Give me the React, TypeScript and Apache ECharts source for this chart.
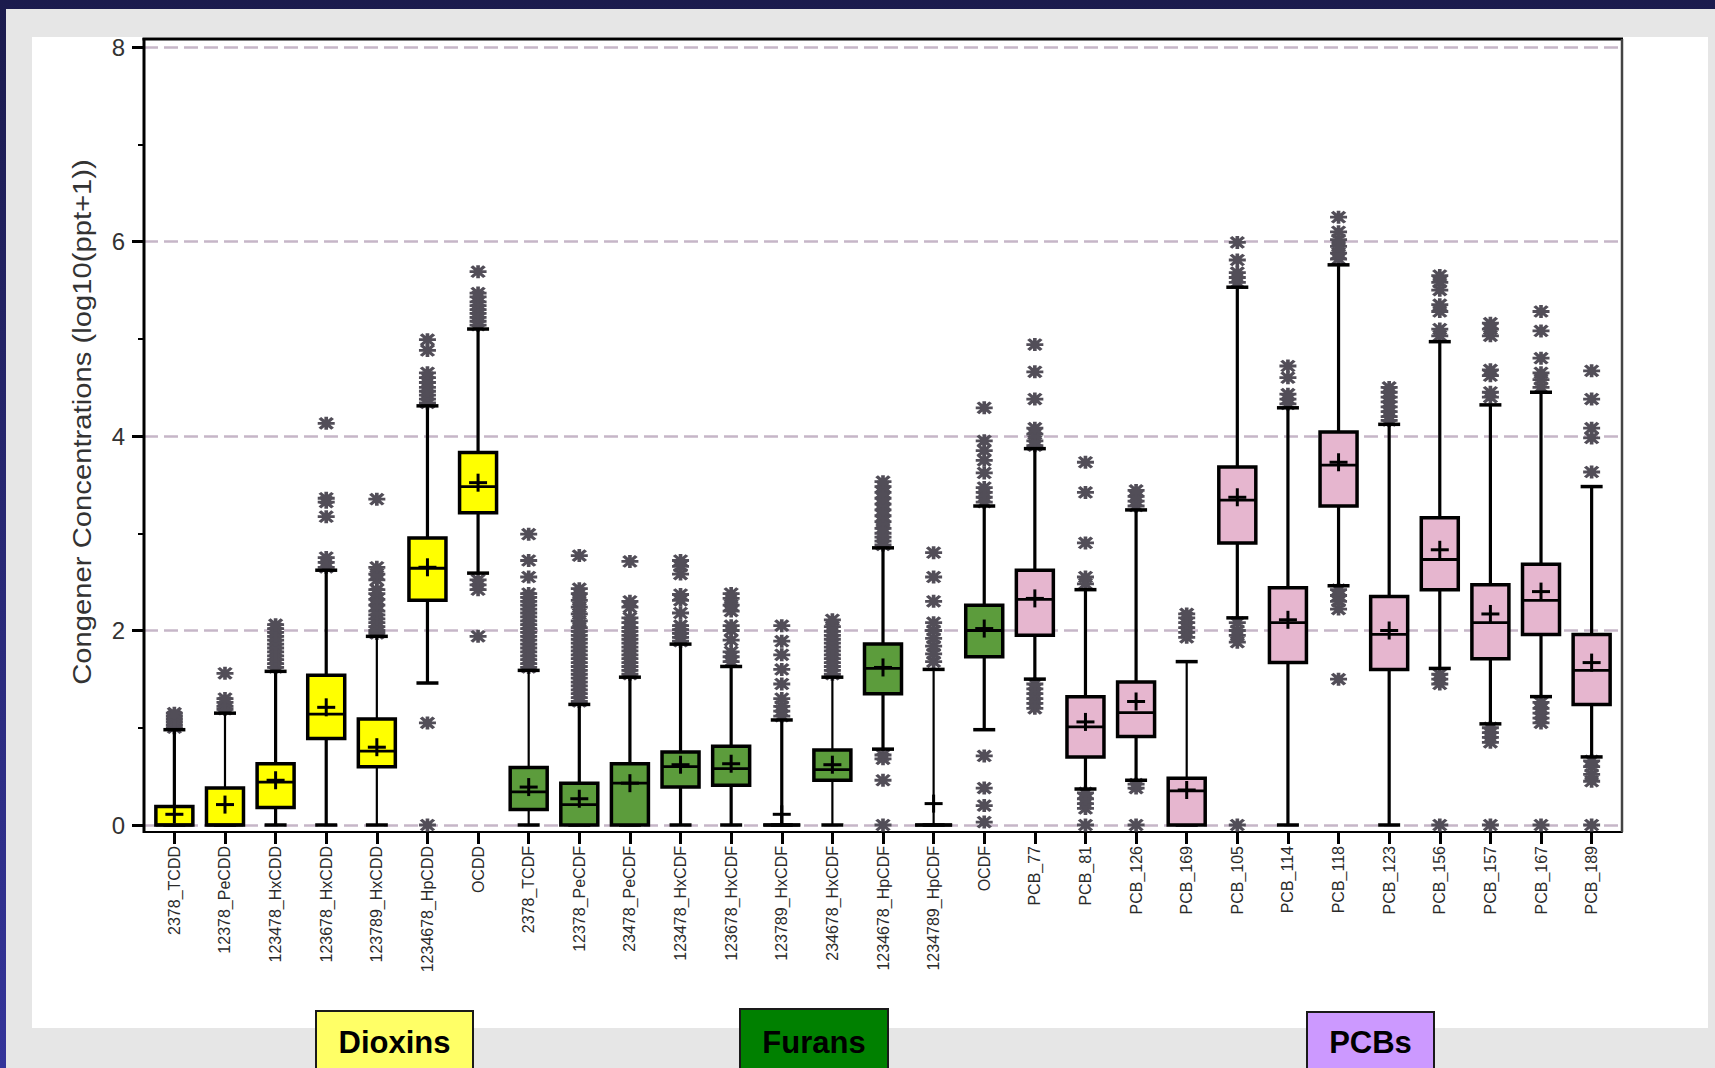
import React, { useEffect, useRef } from 'react';
import * as echarts from 'echarts';

const categories = [
  '2378_TCDD', '12378_PeCDD', '123478_HxCDD', '123678_HxCDD', '123789_HxCDD', '1234678_HpCDD', 'OCDD',
  '2378_TCDF', '12378_PeCDF', '23478_PeCDF', '123478_HxCDF', '123678_HxCDF', '123789_HxCDF', '234678_HxCDF',
  '1234678_HpCDF', '1234789_HpCDF', 'OCDF',
  'PCB_77', 'PCB_81', 'PCB_126', 'PCB_169', 'PCB_105', 'PCB_114', 'PCB_118', 'PCB_123', 'PCB_156', 'PCB_157',
  'PCB_167', 'PCB_189',
];

// 0 = Dioxins, 1 = Furans, 2 = PCBs
const groupIndex = [0, 0, 0, 0, 0, 0, 0, 1, 1, 1, 1, 1, 1, 1, 1, 1, 1, 2, 2, 2, 2, 2, 2, 2, 2, 2, 2, 2, 2];
const groupNames = ['Dioxins', 'Furans', 'PCBs'];

const minValues = [0, 0, 0, 0, 0, 1.46, 2.59, 0, 0, 0, 0, 0, 0, 0, 0.78, 0, 0.98, 1.5, 0.37, 0.46, 0, 2.13, 0, 2.46, 0, 1.61, 1.04, 1.32, 0.7];
const q1Values = [0, 0, 0.18, 0.89, 0.6, 2.31, 3.21, 0.16, 0, 0, 0.39, 0.41, 0, 0.46, 1.35, 0, 1.73, 1.95, 0.7, 0.91, 0, 2.9, 1.67, 3.28, 1.6, 2.42, 1.71, 1.96, 1.24];
const medianValues = [0, 0, 0.44, 1.14, 0.76, 2.64, 3.48, 0.34, 0.21, 0.43, 0.6, 0.58, 0, 0.57, 1.61, 0, 2.0, 2.32, 1.01, 1.155, 0.35, 3.34, 2.08, 3.7, 1.96, 2.73, 2.08, 2.31, 1.59];
const q3Values = [0.19, 0.38, 0.63, 1.54, 1.09, 2.95, 3.83, 0.59, 0.43, 0.63, 0.75, 0.81, 0, 0.77, 1.86, 0, 2.26, 2.62, 1.32, 1.47, 0.48, 3.68, 2.44, 4.04, 2.35, 3.16, 2.47, 2.68, 1.96];
const maxValues = [0.98, 1.15, 1.58, 2.62, 1.94, 4.31, 5.1, 1.59, 1.24, 1.52, 1.86, 1.63, 1.08, 1.52, 2.85, 1.6, 3.28, 3.87, 2.42, 3.24, 1.68, 5.53, 4.29, 5.76, 4.12, 4.97, 4.32, 4.45, 3.48];
const meanValues = [0.11, 0.21, 0.46, 1.21, 0.8, 2.65, 3.52, 0.39, 0.27, 0.43, 0.62, 0.63, 0.11, 0.62, 1.62, 0.22, 2.02, 2.33, 1.06, 1.27, 0.36, 3.37, 2.11, 3.73, 2.0, 2.83, 2.17, 2.4, 1.67];

const outlierValues: number[][] = [
  [1.0, 1.03, 1.06, 1.09, 1.12, 1.15],
  [1.19, 1.22, 1.26, 1.3, 1.56],
  [1.62, 1.66, 1.7, 1.74, 1.78, 1.82, 1.86, 1.9, 1.94, 1.98, 2.02, 2.06],
  [2.65, 2.7, 2.75, 3.17, 3.32, 3.36, 4.13],
  [1.97, 2.0, 2.04, 2.08, 2.12, 2.16, 2.2, 2.26, 2.32, 2.38, 2.42, 2.52, 2.58, 2.65, 3.35],
  [0, 1.05, 4.34, 4.38, 4.42, 4.46, 4.5, 4.55, 4.6, 4.65, 4.88, 4.99],
  [1.94, 2.42, 2.47, 2.52, 5.14, 5.18, 5.22, 5.26, 5.3, 5.34, 5.38, 5.43, 5.47, 5.69],
  [1.62, 1.66, 1.7, 1.74, 1.78, 1.82, 1.86, 1.9, 1.94, 1.98, 2.02, 2.06, 2.1, 2.14, 2.18, 2.22, 2.26, 2.3, 2.34, 2.38, 2.55, 2.72, 2.99],
  [1.27, 1.31, 1.35, 1.39, 1.43, 1.47, 1.51, 1.55, 1.59, 1.63, 1.67, 1.71, 1.75, 1.79, 1.83, 1.87, 1.91, 1.95, 1.99, 2.03, 2.1, 2.17, 2.24, 2.31, 2.38, 2.43, 2.77],
  [1.55, 1.59, 1.63, 1.67, 1.71, 1.75, 1.79, 1.83, 1.87, 1.91, 1.95, 1.99, 2.03, 2.08, 2.13, 2.24, 2.3, 2.71],
  [1.89, 1.93, 1.97, 2.01, 2.05, 2.18, 2.31, 2.37, 2.58, 2.66, 2.72],
  [1.68, 1.73, 1.78, 1.9, 2.0, 2.05, 2.2, 2.26, 2.33, 2.38],
  [1.12, 1.17, 1.22, 1.3, 1.45, 1.6, 1.75, 1.89, 2.05],
  [1.55, 1.59, 1.63, 1.67, 1.71, 1.75, 1.79, 1.83, 1.87, 1.91, 1.95, 1.99, 2.04, 2.11],
  [0, 0.46, 0.68, 0.72, 2.88, 2.92, 2.96, 3.0, 3.05, 3.12, 3.18, 3.24, 3.3, 3.36, 3.42, 3.48, 3.53],
  [1.68, 1.76, 1.84, 1.92, 2.0, 2.08, 2.3, 2.55, 2.8],
  [0.03, 0.2, 0.38, 0.71, 3.32, 3.37, 3.42, 3.47, 3.62, 3.75, 3.85, 3.95, 4.29],
  [1.2, 1.25, 1.3, 1.35, 1.4, 1.45, 3.9, 3.95, 4.02, 4.08, 4.38, 4.66, 4.94],
  [0, 0.17, 0.22, 0.27, 0.33, 2.48, 2.55, 2.9, 3.42, 3.73],
  [0, 0.38, 0.42, 3.28, 3.33, 3.38, 3.44],
  [1.93, 1.98, 2.03, 2.08, 2.13, 2.17],
  [0, 1.88, 1.95, 2.0, 2.08, 5.58, 5.63, 5.68, 5.81, 5.99],
  [4.33, 4.38, 4.43, 4.6, 4.72],
  [1.5, 2.22, 2.3, 2.36, 2.42, 5.82, 5.88, 5.95, 6.02, 6.1, 6.25],
  [4.16, 4.2, 4.25, 4.3, 4.35, 4.4, 4.45, 4.5],
  [0, 1.45, 1.5, 1.55, 5.03, 5.1, 5.28, 5.35, 5.5, 5.58, 5.65],
  [0, 0.85, 0.9, 0.95, 1.0, 4.4, 4.45, 4.62, 4.68, 5.03, 5.1, 5.16],
  [0, 1.05, 1.1, 1.15, 1.2, 1.26, 4.5, 4.58, 4.65, 4.8, 5.08, 5.28],
  [0, 0.45, 0.52, 0.6, 0.66, 3.63, 3.98, 4.08, 4.38, 4.67],
];

const yAxisTitle = 'Congener Concentrations (log10(ppt+1))';

// styles
const BOX_FILL = ['#ffff00', '#5c9c3c', '#e6b6cf'];
const LEGEND_FILL = ['#ffff66', '#008000', '#cc99ff'];
const THIN_WHISKER = new Set([1, 4, 7, 13, 15, 20]);
const FONT = "'Liberation Sans', Arial, Helvetica, sans-serif";

export default function App() {
  const ref = useRef<HTMLDivElement>(null);

  useEffect(() => {
    if (!ref.current) return;
    const chart = echarts.init(ref.current, undefined, { renderer: 'svg' });
    const idx = categories.map((_, i) => i);

    const boxData = categories.map((_, i) => [
      i, minValues[i], q1Values[i], medianValues[i], q3Values[i], maxValues[i], meanValues[i],
    ]);
    const outlierData: number[][] = [];
    outlierValues.forEach((arr, i) => arr.forEach((v) => outlierData.push([i, v])));

    const legendBoxes = [
      { x: 316, y: 1011, w: 157, cx: 394.5 },
      { x: 740, y: 1009, w: 148, cx: 814 },
      { x: 1307, y: 1012, w: 127, cx: 1370.5 },
    ];

    const line = (x1: number, y1: number, x2: number, y2: number, w: number, color = '#000') => ({
      type: 'line',
      shape: { x1, y1, x2, y2 },
      style: { stroke: color, lineWidth: w },
    });

    const option: any = {
      animation: false,
      grid: { left: 144, right: 93, top: 47, bottom: 243, containLabel: false },
      xAxis: {
        type: 'value',
        min: -0.6,
        max: 28.6,
        offset: 7,
        axisLine: { show: true, onZero: false, lineStyle: { color: '#000', width: 2 } },
        axisTick: { show: true, customValues: idx, length: 12, lineStyle: { color: '#000', width: 3 } },
        axisLabel: {
          show: true,
          customValues: idx,
          rotate: 90,
          margin: 14,
          fontSize: 16,
          color: '#2a2a2a',
          fontFamily: FONT,
          formatter: (v: number) => categories[Math.round(v)] ?? '',
        },
        splitLine: { show: false },
      },
      yAxis: {
        type: 'value',
        min: 0,
        max: 8,
        interval: 2,
        axisLine: { show: false, onZero: false },
        axisTick: { show: true, length: 12, lineStyle: { color: '#000', width: 3 } },
        minorTick: { show: true, splitNumber: 2, length: 6, lineStyle: { color: '#000', width: 2 } },
        axisLabel: { margin: 19, fontSize: 24, color: '#333', fontFamily: FONT },
        splitLine: { show: true, lineStyle: { color: '#c6b6c8', width: 2.5, type: [14, 6] } },
      },
      graphic: [
        {
          type: 'rect', z: -10, silent: true,
          shape: { x: 0, y: 0, width: 1715, height: 1068 },
          style: {
            fill: {
              type: 'linear', x: 0, y: 0, x2: 0, y2: 1,
              colorStops: [{ offset: 0, color: '#1b1b4d' }, { offset: 1, color: '#34349a' }],
            },
          },
        },
        { type: 'rect', z: -9, silent: true, shape: { x: 6, y: 9, width: 1709, height: 1059 }, style: { fill: '#e6e6e6' } },
        { type: 'rect', z: -8, silent: true, shape: { x: 32, y: 37, width: 1676, height: 991 }, style: { fill: '#ffffff' } },
        { ...line(142.5, 39, 1623, 39, 3), z: 10, silent: true },
        { ...line(144, 38, 144, 833, 3), z: 10, silent: true },
        { ...line(1622, 39, 1622, 832, 2.5, '#444'), z: 10, silent: true },
        {
          type: 'text', z: 10, silent: true,
          x: 82, y: 422, rotation: Math.PI / 2, scaleX: 1.17,
          style: {
            text: yAxisTitle, fontSize: 25, fontFamily: FONT, fill: '#333',
            align: 'center', verticalAlign: 'middle',
          },
        },
        ...legendBoxes.flatMap((b, g) => [
          {
            type: 'rect', z: 10, silent: true,
            shape: { x: b.x, y: b.y, width: b.w, height: 70 },
            style: { fill: LEGEND_FILL[g], stroke: '#1a1a1a', lineWidth: 2 },
          },
          {
            type: 'text', z: 11, silent: true,
            x: b.cx, y: 1042,
            style: {
              text: groupNames[g], fontSize: 31, fontWeight: 'bold', fontFamily: FONT, fill: '#000',
              align: 'center', verticalAlign: 'middle',
            },
          },
        ]),
      ],
      series: [
        {
          type: 'scatter',
          data: outlierData,
          symbol: 'path://M8,0L8,12M0,6L16,6M2,1L14,11M2,11L14,1',
          symbolSize: [17, 13],
          itemStyle: { color: 'rgba(0,0,0,0)', borderColor: '#524e58', borderWidth: 3.2, opacity: 1 },
          z: 2,
          clip: false,
          silent: true,
        },
        {
          type: 'custom',
          data: boxData,
          encode: { x: 0, y: [1, 2, 3, 4, 5, 6] },
          clip: false,
          z: 3,
          silent: true,
          renderItem: (params: any, api: any) => {
            const i = params.dataIndex;
            const xv = api.value(0);
            const P = (k: number) => api.coord([xv, api.value(k)]);
            const pMin = P(1), pQ1 = P(2), pMed = P(3), pQ3 = P(4), pMax = P(5), pMean = P(6);
            const cx = pMin[0];
            const hw = 18.5, cap = 11, pl = 9;
            const ww = THIN_WHISKER.has(i) ? 2.2 : 3.2;
            return {
              type: 'group',
              children: [
                line(cx, pMax[1], cx, pQ3[1], ww),
                line(cx, pQ1[1], cx, pMin[1], ww),
                line(cx - cap, pMax[1], cx + cap, pMax[1], 3.5),
                line(cx - cap, pMin[1], cx + cap, pMin[1], 3.5),
                {
                  type: 'rect',
                  shape: { x: cx - hw, y: pQ3[1], width: 2 * hw, height: pQ1[1] - pQ3[1] },
                  style: { fill: BOX_FILL[groupIndex[i]], stroke: '#000', lineWidth: 3.5 },
                },
                line(cx - hw, pMed[1], cx + hw, pMed[1], 2.8),
                line(cx - pl, pMean[1], cx + pl, pMean[1], 3),
                line(cx, pMean[1] - pl, cx, pMean[1] + pl, 3),
              ],
            };
          },
        },
      ],
    };

    chart.setOption(option);
    return () => chart.dispose();
  }, []);

  return (
    <div
      ref={ref}
      style={{ position: 'absolute', left: 0, top: 0, width: 1715, height: 1068 }}
    />
  );
}
